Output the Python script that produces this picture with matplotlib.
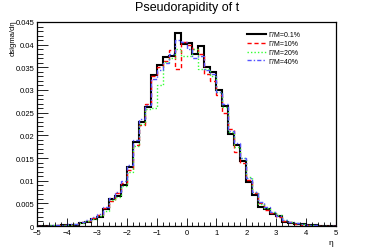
import numpy as np
import matplotlib
matplotlib.use("Agg")
import matplotlib.pyplot as plt
from matplotlib.ticker import MultipleLocator, FuncFormatter

plt.rcParams['font.family'] = ['Liberation Sans', 'DejaVu Sans']

edges = np.linspace(-5, 5, 51)

# bin contents, 50 bins of 0.2 from -5 to 5
w01 = [0.0000, 0.0001, 0.0001, 0.0001, 0.0002, 0.0002, 0.0003, 0.0007, 0.0009, 0.0016,
       0.0020, 0.0037, 0.0060, 0.0067, 0.0090, 0.0130, 0.0186, 0.0230, 0.0262, 0.0334,
       0.0356, 0.0372, 0.0374, 0.0425, 0.0401, 0.0404, 0.0380, 0.0397, 0.0350, 0.0340,
       0.0300, 0.0265, 0.0203, 0.0179, 0.0143, 0.0098, 0.0068, 0.0043, 0.0038, 0.0026,
       0.0021, 0.0009, 0.0007, 0.0004, 0.0004, 0.0002, 0.0002, 0.0001, 0.0001, 0.0000]
w10 = [0.0001, 0.0001, 0.0001, 0.0002, 0.0002, 0.0003, 0.0004, 0.0008, 0.0012, 0.0018,
       0.0024, 0.0040, 0.0056, 0.0072, 0.0095, 0.0124, 0.0178, 0.0222, 0.0270, 0.0330,
       0.0350, 0.0365, 0.0389, 0.0346, 0.0406, 0.0400, 0.0390, 0.0380, 0.0335, 0.0320,
       0.0290, 0.0250, 0.0215, 0.0164, 0.0140, 0.0102, 0.0072, 0.0050, 0.0036, 0.0028,
       0.0020, 0.0012, 0.0008, 0.0005, 0.0003, 0.0002, 0.0001, 0.0001, 0.0001, 0.0001]
w20 = [0.0001, 0.0001, 0.0002, 0.0002, 0.0003, 0.0003, 0.0004, 0.0006, 0.0010, 0.0015,
       0.0022, 0.0034, 0.0058, 0.0064, 0.0088, 0.0120, 0.0176, 0.0225, 0.0258, 0.0260,
       0.0310, 0.0362, 0.0370, 0.0390, 0.0376, 0.0376, 0.0390, 0.0346, 0.0346, 0.0330,
       0.0295, 0.0262, 0.0208, 0.0175, 0.0150, 0.0108, 0.0075, 0.0048, 0.0040, 0.0030,
       0.0025, 0.0013, 0.0009, 0.0006, 0.0004, 0.0003, 0.0002, 0.0001, 0.0001, 0.0000]
w40 = [0.0001, 0.0001, 0.0002, 0.0002, 0.0003, 0.0004, 0.0005, 0.0009, 0.0013, 0.0020,
       0.0027, 0.0043, 0.0062, 0.0075, 0.0100, 0.0135, 0.0190, 0.0235, 0.0268, 0.0325,
       0.0345, 0.0360, 0.0380, 0.0410, 0.0405, 0.0390, 0.0370, 0.0375, 0.0345, 0.0335,
       0.0295, 0.0270, 0.0210, 0.0182, 0.0150, 0.0105, 0.0074, 0.0052, 0.0042, 0.0030,
       0.0023, 0.0013, 0.0009, 0.0006, 0.0004, 0.0003, 0.0002, 0.0001, 0.0001, 0.0001]

labels = ["\u0393/M=0.1%", "\u0393/M=10%", "\u0393/M=20%", "\u0393/M=40%"]

fig = plt.figure(figsize=(3.74, 2.53), dpi=100)
ax = fig.add_axes([37/374, 1-227/253, 299/374, 204/253])

ax.stairs(w01, edges, color="black", lw=1.5, label=labels[0])
ax.stairs(w10, edges, color="red", lw=1.0, ls=(0, (3, 2)), label=labels[1])
ax.stairs(w20, edges, color="#33ff33", lw=1.0, ls=(0, (1, 1.5)), label=labels[2])
ax.stairs(w40, edges, color="#5555ff", lw=1.0, ls=(0, (3, 1.5, 1, 1.5)), label=labels[3])

ax.set_xlim(-5, 5)
ax.set_ylim(0, 0.045)
ax.xaxis.set_major_locator(MultipleLocator(1))
ax.xaxis.set_minor_locator(MultipleLocator(0.2))
ax.yaxis.set_major_locator(MultipleLocator(0.005))
ax.yaxis.set_minor_locator(MultipleLocator(0.001))
ax.yaxis.set_major_formatter(FuncFormatter(lambda v, p: "%g" % round(v, 4)))
ax.xaxis.set_major_formatter(FuncFormatter(lambda v, p: ("%g" % v).replace("-", "\u2212")))
ax.tick_params(which="both", direction="in", top=False, right=False, labelsize=5.5, pad=2)
ax.tick_params(axis="x", which="major", length=6, width=0.6)
ax.tick_params(axis="x", which="minor", length=3, width=0.6)
ax.tick_params(axis="y", which="major", length=8, width=0.6)
ax.tick_params(axis="y", which="minor", length=4, width=0.6)
for s in ax.spines.values():
    s.set_linewidth(0.9)

fig.text(0.5, 1-8/253, "Pseudorapidity of t", ha="center", va="center", fontsize=9)
fig.text(13/374, 1-20/253, "dsigma/d\u03b7", rotation=90, ha="center", va="top", fontsize=5.5)
fig.text(333/374, 1-244/253, "\u03b7", ha="right", va="center", fontsize=6)

ax.legend(loc="upper left", bbox_to_anchor=(207/299, 1-6/204), frameon=False, fontsize=5,
          handlelength=2.6, handletextpad=0.4, labelspacing=0.25, borderpad=0)

fig.savefig("out.png", dpi=100)
